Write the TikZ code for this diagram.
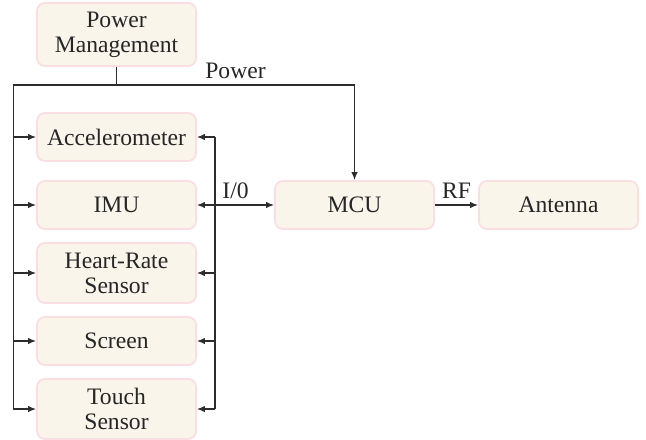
\documentclass[tikz,border=0pt]{standalone}
\usepackage{fontspec}
\setmainfont{Liberation Serif}
\definecolor{boxfill}{RGB}{249,245,235}
\definecolor{boxline}{RGB}{250,222,226}
\definecolor{wire}{RGB}{45,45,45}
\usetikzlibrary{positioning,arrows.meta,calc}

\begin{document}
\begin{tikzpicture}[
  box/.style={draw=boxline, fill=boxfill, line width=0.9pt, rounded corners=4pt, minimum height=24pt, minimum width=79.5pt, inner sep=2pt, align=center, text=black!85, font=\fontsize{11.8}{12.5}\selectfont},
  tall/.style={box, minimum height=30pt},
  wireline/.style={draw=wire, line width=0.6pt},
  arr/.style={wireline, -{Latex[length=4pt,width=3.2pt]}},
  dbl/.style={wireline, {Latex[length=4pt,width=3.2pt]}-{Latex[length=4pt,width=3.2pt]}},
  lbl/.style={font=\fontsize{11.8}{12.5}\selectfont, text=black!85, inner sep=3pt},
  node distance=34pt and 119pt, on grid
]
  \useasboundingbox (0,0) rectangle (323pt,-219.5pt);

  \node[tall, minimum height=31.5pt] (power) at (58.25pt,-17.25pt) {Power\\Management};
  \node[box, below=51.25pt of power] (accel) {Accelerometer};
  \node[box, below=of accel] (imu) {IMU};
  \node[tall, below=of imu] (heart) {Heart-Rate\\Sensor};
  \node[box, below=of heart] (screen) {Screen};
  \node[tall, below=of screen] (touch) {Touch\\Sensor};
  \node[box, right=of imu] (mcu) {MCU};
  \node[box, right=102pt of mcu] (antenna) {Antenna};

  % power bus
  \coordinate (pj) at ($(power.south)+(0,-9pt)$);
  \coordinate (lbus) at ($(accel.west |- pj)+(-11.5pt,0)$);
  \coordinate (iobus) at ($(accel.east)+(9pt,0)$);
  \draw[wireline] (power.south) -- (pj);
  \draw[arr] (lbus) -- (pj) -- (pj -| mcu.north) node[lbl, midway, above] {Power} -- (mcu.north);
  \draw[arr] (lbus) |- (touch.west);
  \foreach \n in {accel, imu, heart, screen}
    \draw[arr] (lbus |- \n.west) -- (\n.west);

  % I/O bus
  \draw[wireline] (iobus) -- (iobus |- touch.east);
  \foreach \n in {accel, heart, screen, touch}
    \draw[arr] (iobus |- \n.east) -- (\n.east);
  \draw[dbl] (imu.east) -- node[lbl, above] {I/0} (mcu.west);

  \draw[arr] (mcu.east) -- node[lbl, above] {RF} (antenna.west);
\end{tikzpicture}
\end{document}
